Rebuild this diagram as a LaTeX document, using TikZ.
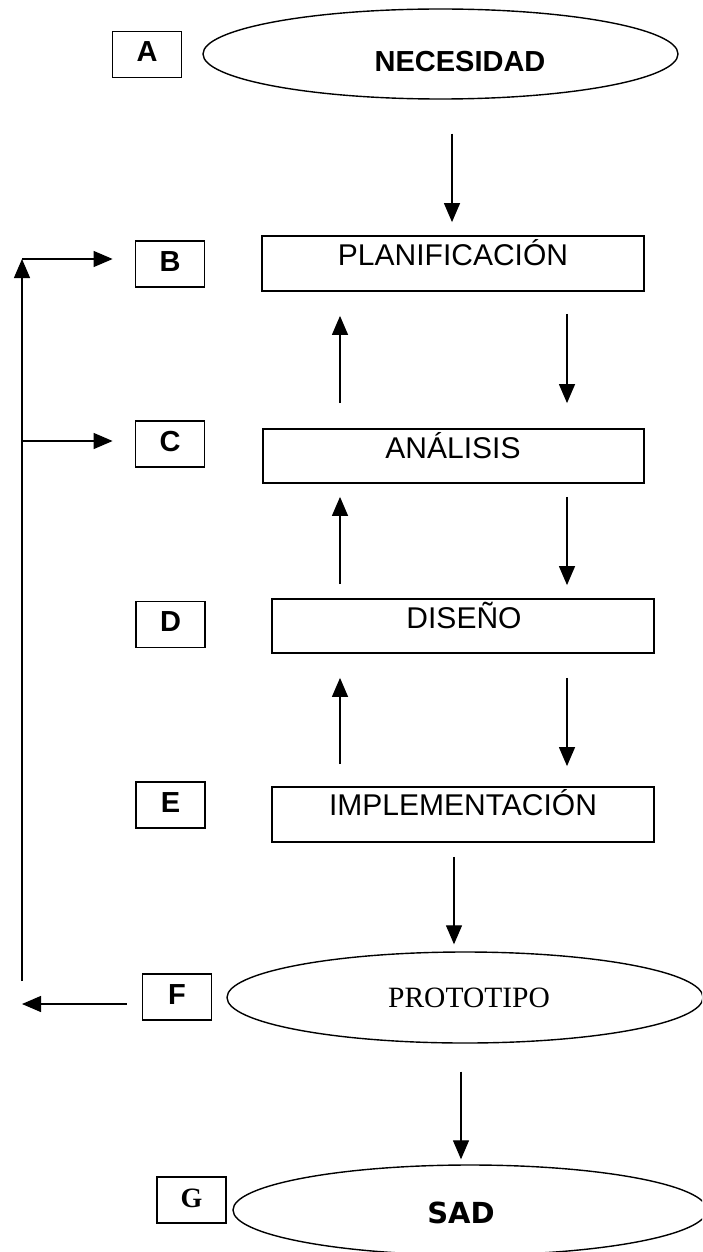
\documentclass[tikz,border=0pt]{standalone}
\usepackage{fontspec}
\setmainfont{Liberation Sans}
\newfontfamily\serifmain{Liberation Serif}
\newfontfamily\dejavu{DejaVu Sans}
\usetikzlibrary{shapes.geometric,arrows.meta}
\tikzset{
  lbox/.style={draw, line width=1.8pt, minimum width=69pt, minimum height=46pt, inner sep=0pt,
    text height=21pt, text depth=7pt, font=\fontsize{29}{34}\selectfont\bfseries},
  stage/.style={draw, line width=1.8pt, inner sep=0pt},
  oval/.style={draw, ellipse, line width=1.4pt, inner sep=0pt},
  arr/.style={line width=1.3pt, -{Triangle[length=19pt,width=16pt]}},
  txt/.style={anchor=base, inner sep=0pt, font=\fontsize{30}{36}\selectfont},
}
\begin{document}
\begin{tikzpicture}[x=1pt,y=-1pt]
\useasboundingbox (0,0) rectangle (702,1252);
\clip (0,0) rectangle (702,1252);
\fill[white] (0,0) rectangle (702,1252);

% letter boxes
\node[lbox] (A) at (147,54.5) {A};
\node[lbox] (B) at (170,264) {B};
\node[lbox] (C) at (170,444) {C};
\node[lbox] (D) at (170.5,624.5) {D};
\node[lbox] (E) at (170.5,805) {E};
\node[lbox] (F) at (177,997) {F};
\node[lbox, font=\fontsize{28}{32}\selectfont\serifmain\bfseries] (G) at (191.5,1200) {G};

% ellipses
\node[oval, minimum width=475pt, minimum height=90pt] (nec) at (440.5,54) {};
\node[txt, font=\fontsize{29}{34}\selectfont\bfseries] (necT) at (460,72) {NECESIDAD};
\node[oval, minimum width=476pt, minimum height=91pt] (proto) at (465,997.5) {};
\node[txt, font=\fontsize{29.5}{34}\selectfont\serifmain] (protoT) at (469,1007) {PROTOTIPO};
\node[oval, minimum width=474pt, minimum height=90pt] (sad) at (470,1210) {};
\node[txt, font=\fontsize{29}{34}\selectfont\dejavu\bfseries] (sadT) at (461,1223) {SAD};

% stage rectangles
\node[stage, minimum width=382pt, minimum height=55pt] (plan) at (453,263.5) {};
\node[txt] (planT) at (453,265) {PLANIFICACIÓN};
\node[stage, minimum width=381pt, minimum height=54pt] (anal) at (453.5,456) {};
\node[txt] (analT) at (453,458) {ANÁLISIS};
\node[stage, minimum width=382pt, minimum height=54pt] (dis) at (463,626) {};
\node[txt] (disT) at (464,628) {DISEÑO};
\node[stage, minimum width=382pt, minimum height=55pt] (impl) at (463,814.5) {};
\node[txt] (implT) at (463,815) {IMPLEMENTACIÓN};

% column / junction coordinates
\coordinate (cN) at (452,0);
\coordinate (cL) at (340,0);
\coordinate (cR) at (567,0);
\coordinate (cI) at (454,0);
\coordinate (cP) at (461,0);
\coordinate (jB) at (22,259);
\coordinate (jC) at (22,441);
\coordinate (vbot) at (22,981);
\coordinate (fend) at (22,1004);

% main flow
\draw[arr, shorten <=34pt, shorten >=13pt] (nec.south -| cN) -- (plan.north -| cN);
\draw[arr, shorten <=25pt, shorten >=24pt] (anal.north -| cL) -- (plan.south -| cL);
\draw[arr, shorten <=22pt, shorten >=25pt] (plan.south -| cR) -- (anal.north -| cR);
\draw[arr, shorten <=14pt, shorten >=13pt] (dis.north -| cL) -- (anal.south -| cL);
\draw[arr, shorten <=13pt, shorten >=13pt] (anal.south -| cR) -- (dis.north -| cR);
\draw[arr, shorten <=22pt, shorten >=24pt] (impl.north -| cL) -- (dis.south -| cL);
\draw[arr, shorten <=24pt, shorten >=20pt] (dis.south -| cR) -- (impl.north -| cR);
\draw[arr, shorten <=14pt, shorten >=7pt] (impl.south -| cI) -- (proto.north -| cI);
\draw[arr, shorten <=28pt, shorten >=5pt] (proto.south -| cP) -- (sad.north -| cP);

% feedback
\draw[arr, shorten <=15pt] ([yshift=-7pt]F.west) -- (fend);
\draw[arr] (vbot) -- (jB);
\draw[arr, shorten >=22pt] (jB) -- (B.west |- jB);
\draw[arr, shorten >=22pt] (jC) -- (C.west |- jC);
\end{tikzpicture}
\end{document}
